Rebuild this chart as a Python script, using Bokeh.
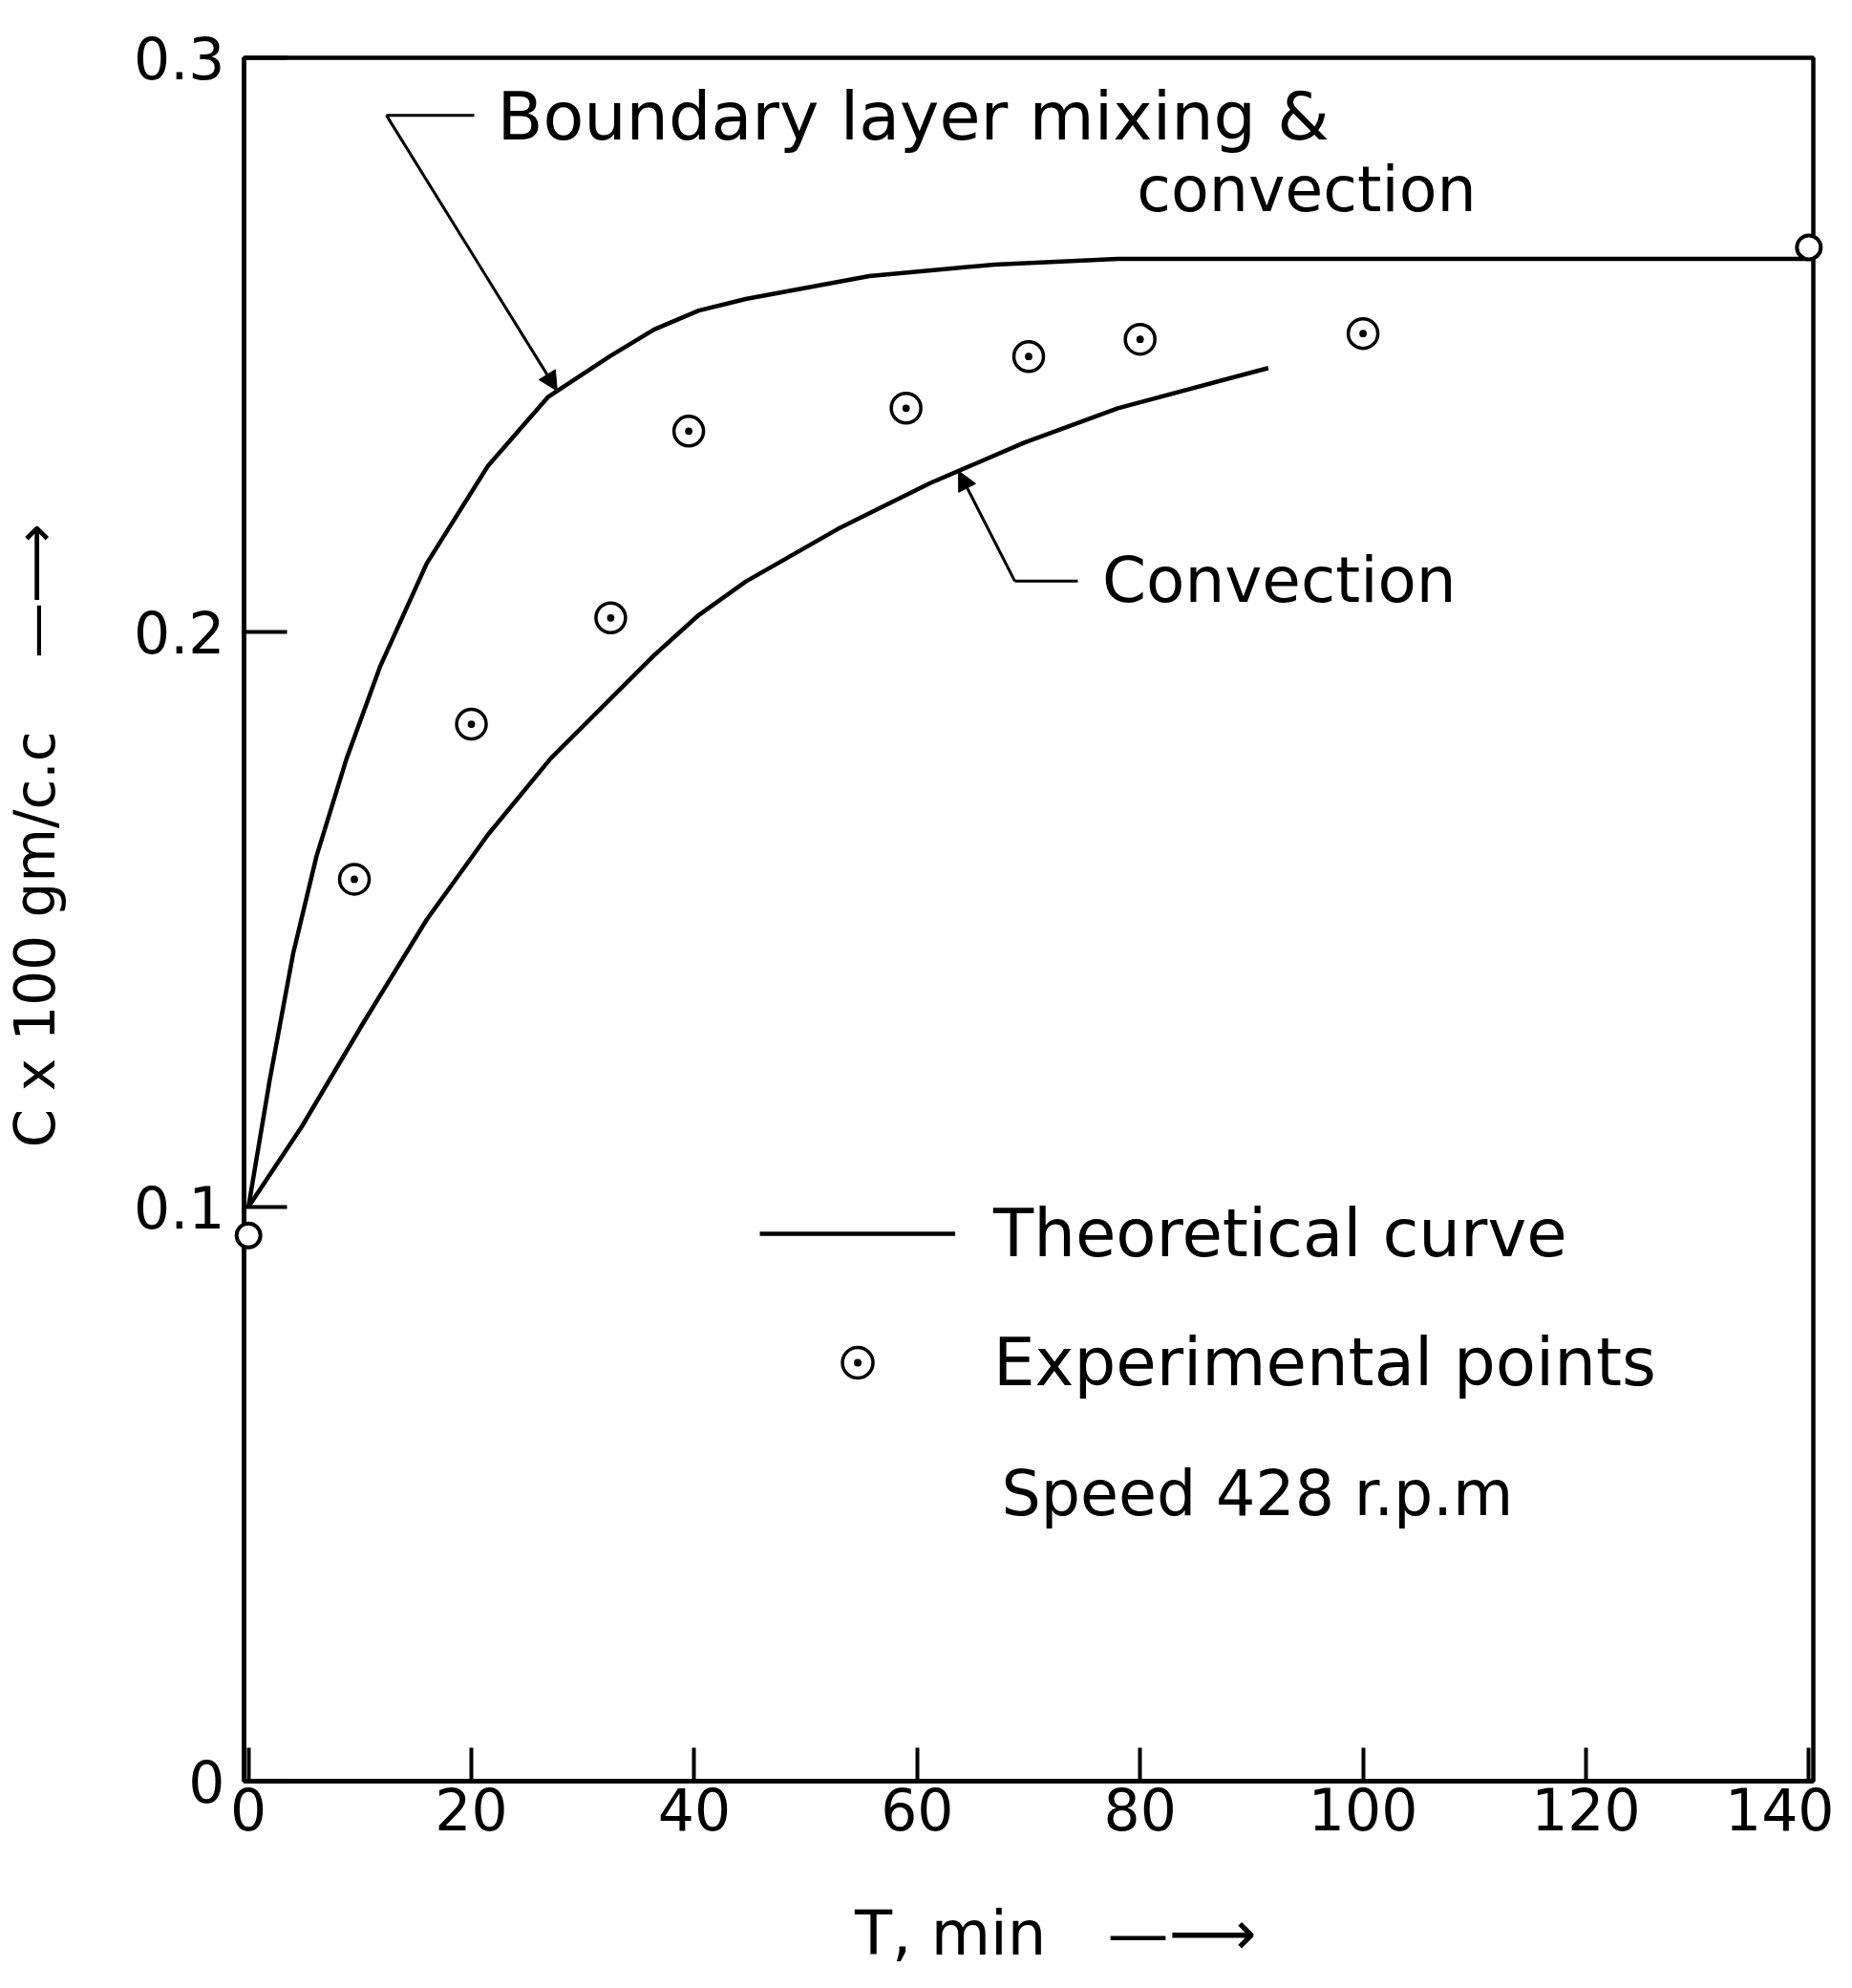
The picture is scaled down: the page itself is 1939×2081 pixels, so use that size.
import numpy as np
from bokeh.plotting import figure
from bokeh.models import Range1d, FixedTicker, Label, Arrow, NormalHead, Legend, LegendItem
from bokeh.embed import file_html
from bokeh.resources import INLINE

FONT = "DejaVu Sans"

# ---- data ----
# Theoretical curve: boundary layer mixing & convection
upper_t = [0, 1.9, 4, 6.1, 8.8, 11.8, 16, 21.5, 26.9, 32.4, 36.4, 40.4, 44.6, 55.7, 66.9, 78, 100, 120, 140]
upper_c = [0.100, 0.122, 0.144, 0.161, 0.178, 0.194, 0.212, 0.229, 0.241, 0.248, 0.2527, 0.256,
           0.258, 0.262, 0.264, 0.265, 0.265, 0.265, 0.265]
# Theoretical curve: convection only
lower_t = [0, 4.8, 10.3, 16, 21.5, 27.1, 36.4, 40.4, 44.6, 52.9, 61.2, 69.6, 78, 91.5]
lower_c = [0.100, 0.114, 0.132, 0.150, 0.1648, 0.178, 0.196, 0.203, 0.2088, 0.218, 0.226, 0.233,
           0.239, 0.246]
# Experimental points
exp_t = [9.5, 20, 32.5, 39.5, 59, 70, 80, 100]
exp_c = [0.157, 0.184, 0.2025, 0.235, 0.239, 0.248, 0.251, 0.252]
# Open end-point circles
end_t = [0, 140]
end_c = [0.095, 0.267]

x_ticks = [0, 20, 40, 60, 80, 100, 120, 140]
y_ticks = [0.0, 0.1, 0.2, 0.3]
y_tick_labels = ["0", "0.1", "0.2", "0.3"]

x_title = "T, min\u2003\u2014\u27f6"
y_title = "C x 100 gm/c.c\u2003 \u2014\u27f6"

# ---- figure ----
p = figure(width=1920, height=2065,
           x_range=Range1d(-0.4, 140.4), y_range=Range1d(0, 0.3),
           output_backend="svg", toolbar_location=None,
           min_border_left=255, min_border_right=22,
           min_border_top=60, min_border_bottom=201)
p.xgrid.visible = False
p.ygrid.visible = False
p.background_fill_color = "white"
p.border_fill_color = "white"
p.outline_line_color = "black"
p.outline_line_width = 4.5

for ax in (p.xaxis[0], p.yaxis[0]):
    ax.axis_line_width = 4.5
    ax.axis_line_color = "black"
    ax.major_tick_out = 0
    ax.major_tick_line_width = 4
    ax.major_tick_line_color = "black"
    ax.minor_tick_line_color = None
    ax.major_label_text_font = FONT
    ax.major_label_text_font_size = "60px"
    ax.major_label_text_color = "black"

p.xaxis.ticker = FixedTicker(ticks=x_ticks)
p.xaxis.major_tick_in = 35
p.xaxis.major_label_standoff = 6
p.yaxis.ticker = FixedTicker(ticks=y_ticks)
p.yaxis.major_tick_in = 45
p.yaxis.major_label_standoff = 20
p.yaxis.major_label_overrides = {t: s for t, s in zip(y_ticks, y_tick_labels)}

# axis titles, placed in the side panels (so not clipped) with the plot's own scales
p.add_layout(Label(x=-19.1, y=0.1103, text=y_title, angle=np.pi / 2, text_font=FONT,
                   text_font_size="58px", text_color="black", text_align="left",
                   text_baseline="alphabetic"), "left")
p.add_layout(Label(x=54.4, y=-0.0266, text=x_title, text_font=FONT, text_font_size="64px",
                   text_color="black", text_align="left", text_baseline="alphabetic"), "below")

# ---- marks ----
r_up = p.line(upper_t, upper_c, line_width=4.5, line_color="black", line_join="round")
r_lo = p.line(lower_t, lower_c, line_width=4.5, line_color="black", line_join="round")
r_pts = p.scatter(exp_t, exp_c, marker="circle_dot", size=31, fill_color="white",
                  line_color="black", line_width=3.5)
r_end = p.scatter(end_t, end_c, marker="circle", size=25, fill_color="white",
                  line_color="black", line_width=4, level="overlay")

# ---- legend ----
legend = Legend(items=[LegendItem(label="Theoretical curve", renderers=[r_up]),
                       LegendItem(label="Experimental points", renderers=[r_pts])],
                location=(540, 398), orientation="vertical",
                glyph_width=205, glyph_height=80, label_height=80,
                spacing=55, padding=0, margin=0, label_standoff=40,
                border_line_color=None, background_fill_alpha=0,
                label_text_font=FONT, label_text_font_size="69px", label_text_color="black")
p.add_layout(legend)


def lab(x, y, text, size, angle=0.0, align="left", baseline="alphabetic"):
    p.add_layout(Label(x=x, y=y, text=text, text_font=FONT, text_font_size=f"{size}px",
                       text_color="black", text_align=align, text_baseline=baseline,
                       angle=angle))


def leader(x0, y0, x1, y1, head=True, w=3, hs=20):
    end = NormalHead(size=hs, fill_color="black", line_color="black", line_width=1) if head else None
    p.add_layout(Arrow(x_start=x0, y_start=y0, x_end=x1, y_end=y1, line_width=w,
                       line_color="black", end=end))


# annotations inside the frame
lab(22.3, 0.2897, "Boundary layer mixing &", 70)
lab(79.7, 0.2770, "convection", 65)
leader(12.37, 0.2900, 20.25, 0.2900, head=False)
leader(12.37, 0.2900, 27.7, float(np.interp(27.7, upper_t, upper_c)))

lab(76.6, 0.2090, "Convection", 66)
leader(68.76, 0.2089, 74.41, 0.2089, head=False)
leader(68.76, 0.2089, 63.7, float(np.interp(63.7, lower_t, lower_c)))

lab(67.56, 0.0500, "Speed 428 r.p.m", 65)

open("out.html", "w").write(file_html(p, INLINE))
